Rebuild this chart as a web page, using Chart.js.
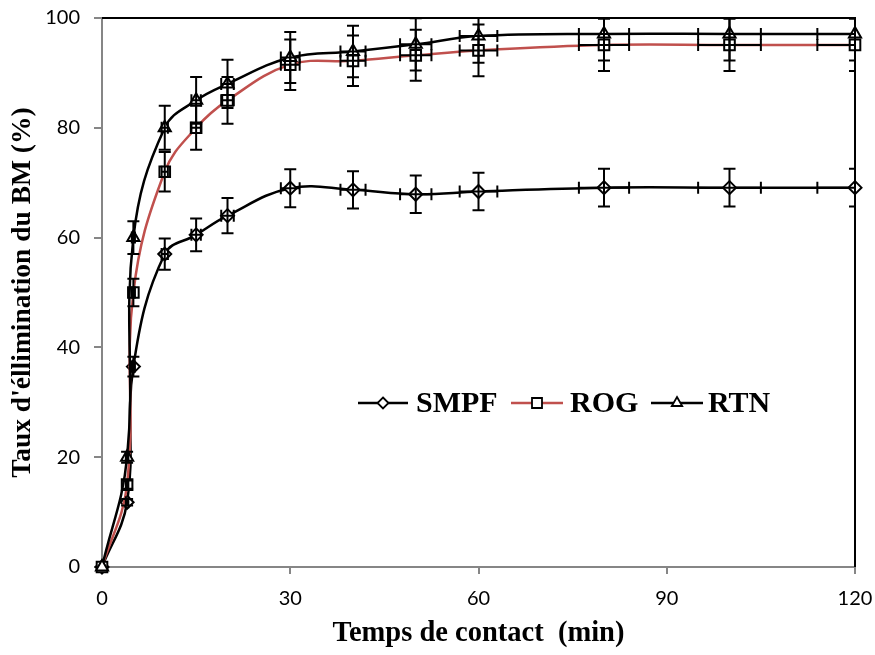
<!DOCTYPE html>
<html>
<head>
<meta charset="utf-8">
<script src="https://cdn.jsdelivr.net/npm/chart.js@4.4.1/dist/chart.umd.min.js"></script>
<style>
  html, body { margin: 0; padding: 0; background: #ffffff; }
  #wrap { width: 875px; height: 655px; position: relative; }
</style>
</head>
<body>
<div id="wrap"><canvas id="c" width="875" height="655"></canvas></div>
<script>
// ---- data ----
const timeMin = [0, 4, 5, 10, 15, 20, 30, 40, 50, 60, 80, 100, 120];
const timeErr = [0, 0.2, 0.25, 0.5, 0.75, 1, 1.5, 2, 2.5, 3, 4, 5, 6];

const smpf    = [0, 11.8, 36.5, 57, 60.5, 64, 69, 68.7, 67.9, 68.4, 69.1, 69.1, 69.1];
const smpfErr = [0, 0.6, 1.8, 2.85, 3.0, 3.2, 3.45, 3.4, 3.4, 3.4, 3.45, 3.45, 3.45];

const rog     = [0, 15, 50, 72, 80, 85, 91.5, 92.2, 93.2, 94.1, 95.1, 95.1, 95.1];
const rogErr  = [0, 0.75, 2.5, 3.6, 4.0, 4.25, 4.6, 4.6, 4.65, 4.7, 4.75, 4.75, 4.75];

const rtn     = [0, 20, 60, 80, 85, 88, 92.8, 93.9, 95.2, 96.7, 97.1, 97.1, 97.1];
const rtnErr  = [0, 1.0, 3.0, 4.0, 4.25, 4.4, 4.65, 4.7, 4.75, 4.85, 4.85, 4.85, 4.85];

const seriesNames = ['SMPF', 'ROG', 'RTN'];
const xTickValues = [0, 30, 60, 90, 120];
const yTickValues = [0, 20, 40, 60, 80, 100];

const xTitle = 'Temps de contact  (min)';
const yTitle = "Taux d'éllimination du BM (%)";

// ---- build datasets ----
function pts(ys) { return timeMin.map((x, i) => ({ x: x, y: ys[i] })); }
const errs = [smpfErr, rogErr, rtnErr];

const RED = '#C0504D';
const datasets = [
  { label: seriesNames[0], data: pts(smpf), borderColor: '#000', pointStyle: 'rectRot', pointRadius: 6.5, order: 3 },
  { label: seriesNames[1], data: pts(rog),  borderColor: RED,    pointStyle: 'rect',    pointRadius: 7.5, order: 2 },
  { label: seriesNames[2], data: pts(rtn),  borderColor: '#000', pointStyle: 'triangle',pointRadius: 7,   order: 1 }
].map(d => Object.assign({
  borderWidth: 2.5,
  pointBackgroundColor: '#fff',
  pointBorderColor: '#000',
  pointBorderWidth: 2,
  tension: 0.4,
  clip: false,
  fill: false
}, d));

// ---- plugins ----
const frame = {
  id: 'frame',
  beforeDatasetsDraw(chart) {
    const { ctx, chartArea: a } = chart;
    ctx.save();
    ctx.strokeStyle = '#000';
    ctx.lineWidth = 2;
    ctx.beginPath();
    ctx.moveTo(a.left, a.top);
    ctx.lineTo(a.right, a.top);
    ctx.lineTo(a.right, a.bottom);
    ctx.stroke();
    ctx.restore();
  }
};

const errorBars = {
  id: 'errorBars',
  afterDatasetsDraw(chart) {
    const { ctx, chartArea: a, scales: { x, y } } = chart;
    const cap = 6;
    ctx.save();
    ctx.beginPath();
    ctx.rect(a.left - 1, a.top - 1, a.right - a.left + 2, a.bottom - a.top + 2);
    ctx.clip();
    ctx.strokeStyle = '#000';
    ctx.lineWidth = 2;
    chart.data.datasets.forEach((ds, di) => {
      ds.data.forEach((p, i) => {
        const ey = errs[di][i], ex = timeErr[i];
        const px = x.getPixelForValue(p.x), py = y.getPixelForValue(p.y);
        ctx.beginPath();
        if (ey > 0) {
          const t = y.getPixelForValue(p.y + ey), b = y.getPixelForValue(p.y - ey);
          ctx.moveTo(px, t); ctx.lineTo(px, b);
          ctx.moveTo(px - cap, t); ctx.lineTo(px + cap, t);
          ctx.moveTo(px - cap, b); ctx.lineTo(px + cap, b);
        }
        if (ex > 0) {
          const l = x.getPixelForValue(p.x - ex), r = x.getPixelForValue(p.x + ex);
          ctx.moveTo(l, py); ctx.lineTo(r, py);
          ctx.moveTo(l, py - cap); ctx.lineTo(l, py + cap);
          ctx.moveTo(r, py - cap); ctx.lineTo(r, py + cap);
        }
        ctx.stroke();
      });
    });
    ctx.restore();
  }
};

const inLegend = {
  id: 'inLegend',
  afterDraw(chart) {
    const { ctx } = chart;
    const cy = 403;
    const items = [
      { x0: 358, x1: 408, tx: 416 },
      { x0: 511, x1: 563, tx: 570 },
      { x0: 651, x1: 703, tx: 708 }
    ];
    ctx.save();
    chart.data.datasets.forEach((ds, i) => {
      const it = items[i];
      ctx.strokeStyle = ds.borderColor;
      ctx.lineWidth = 2.5;
      ctx.beginPath(); ctx.moveTo(it.x0, cy); ctx.lineTo(it.x1, cy); ctx.stroke();
      const mx = (it.x0 + it.x1) / 2;
      ctx.fillStyle = '#fff';
      ctx.strokeStyle = '#000';
      ctx.lineWidth = 1.8;
      ctx.beginPath();
      if (ds.pointStyle === 'rectRot') {
        const r = 5.5;
        ctx.moveTo(mx, cy - r); ctx.lineTo(mx + r, cy); ctx.lineTo(mx, cy + r); ctx.lineTo(mx - r, cy); ctx.closePath();
      } else if (ds.pointStyle === 'rect') {
        const h = 5;
        ctx.rect(mx - h, cy - h, 2 * h, 2 * h);
      } else {
        const r = 6;
        ctx.moveTo(mx, cy - r);
        ctx.lineTo(mx + r * 0.866, cy + r * 0.5);
        ctx.lineTo(mx - r * 0.866, cy + r * 0.5);
        ctx.closePath();
      }
      ctx.fill(); ctx.stroke();
      ctx.fillStyle = '#000';
      ctx.font = 'bold 30px "Liberation Serif"';
      ctx.textBaseline = 'middle';
      ctx.textAlign = 'left';
      ctx.fillText(ds.label, it.tx, cy + 1);
    });
    ctx.restore();
  }
};

const GREY = '#868686';
new Chart(document.getElementById('c'), {
  type: 'line',
  data: { datasets: datasets },
  plugins: [frame, errorBars, inLegend],
  options: {
    responsive: false,
    animation: false,
    events: [],
    layout: { autoPadding: false, padding: { top: 18, right: 20, bottom: 0, left: 0 } },
    plugins: { legend: { display: false }, tooltip: { enabled: false } },
    scales: {
      x: {
        type: 'linear', min: 0, max: 120,
        afterFit(s) { s.height = 88; s.paddingLeft = 0; s.paddingRight = 0; },
        afterBuildTicks(s) { s.ticks = xTickValues.map(v => ({ value: v })); },
        ticks: { padding: 13, color: '#000', font: { family: 'Lato', size: 20 } },
        grid: { drawOnChartArea: false, drawTicks: true, tickLength: 7, color: GREY, lineWidth: 2 },
        border: { color: GREY, width: 2 },
        title: { display: true, text: xTitle, color: '#000', padding: { top: 0, bottom: 4 },
                 font: { family: 'Liberation Serif', weight: 'bold', size: 28.5 } }
      },
      y: {
        type: 'linear', min: 0, max: 100,
        afterFit(s) { s.width = 102; s.paddingTop = 0; s.paddingBottom = 0; },
        afterBuildTicks(s) { s.ticks = yTickValues.map(v => ({ value: v })); },
        ticks: { padding: 14, color: '#000', font: { family: 'Lato', size: 20 } },
        grid: { drawOnChartArea: false, drawTicks: true, tickLength: 8, color: GREY, lineWidth: 2 },
        border: { color: GREY, width: 2 },
        title: { display: true, text: yTitle, color: '#000', padding: { top: 6, bottom: 0 },
                 font: { family: 'Liberation Serif', weight: 'bold', size: 27.5 } }
      }
    }
  }
});
</script>
</body>
</html>
